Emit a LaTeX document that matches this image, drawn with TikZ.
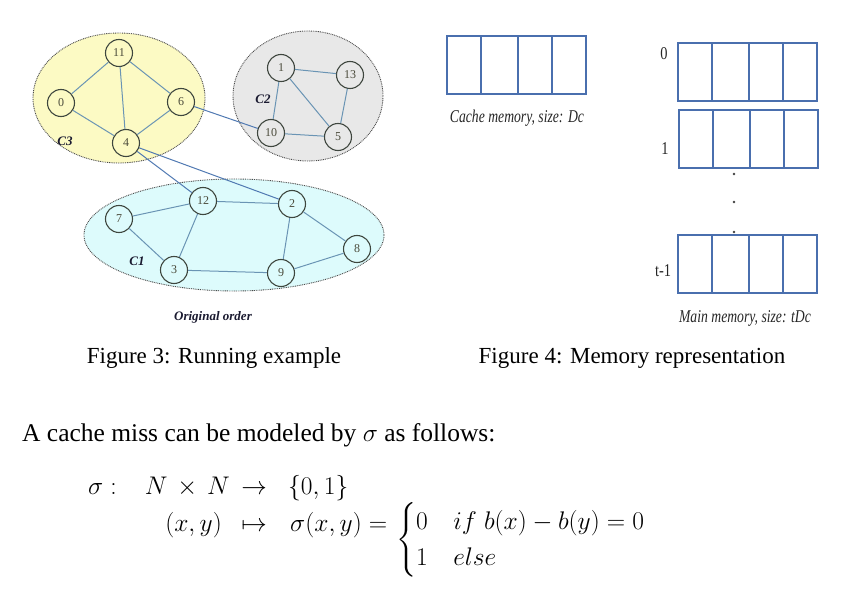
\RequirePackage{fix-cm}
\documentclass[tikz,border=0pt]{standalone}
\usepackage{amsmath}
\usepackage[no-math]{fontspec}
\setmainfont{Liberation Serif}
\usepackage{graphicx}
\definecolor{cyel}{HTML}{FCFAC4}
\definecolor{cgray}{HTML}{E8E8E8}
\definecolor{ccyan}{HTML}{DDFBFC}
\definecolor{vline}{HTML}{3E463E}
\definecolor{eline}{HTML}{6A94B4}
\definecolor{xline}{HTML}{5079B2}
\definecolor{memc}{HTML}{4A6FAE}
\definecolor{vtext}{HTML}{4A4A3A}
\definecolor{clab}{HTML}{1A1A30}
\tikzset{
  vert/.style={circle, draw=vline, line width=1.1pt, minimum size=27pt, inner sep=0pt,
    font=\fontsize{12}{12}\selectfont, text=vtext},
  cluster/.style={draw=black!70, line width=0.9pt, dash pattern=on 0.9pt off 0.9pt},
  edge/.style={draw=eline, line width=1pt},
  xedge/.style={draw=xline, line width=1pt},
  clabel/.style={font=\fontsize{13}{13}\selectfont\bfseries\itshape, text=clab, inner sep=0pt},
  memline/.style={draw=memc, line width=1.3pt},
  memrow/.pic={
    \draw[memline] (0,0) rectangle (139,58);
    \foreach \xx in {34,71,105} \draw[memline] (\xx,0) -- (\xx,58);
  },
  memlab/.style={inner sep=0pt, text=black!85},
  figcap/.style={inner sep=0pt, anchor=base, font=\fontsize{23}{27}\selectfont},
  mth/.style={inner sep=0pt, font=\fontsize{25.5}{30}\selectfont},
}
\begin{document}
\begin{tikzpicture}[x=1pt,y=-1pt]
\useasboundingbox (0,0) rectangle (860,596);
% clusters
\draw[cluster, fill=cyel] (119,98) ellipse [x radius=86pt, y radius=65pt];
\draw[cluster, fill=cgray] (308,96) ellipse [x radius=75pt, y radius=65pt];
\draw[cluster, fill=ccyan] (234,235) ellipse [x radius=150pt, y radius=56pt];
\node[clabel] (lc3) at (65,141) {C3};
\node[clabel] (lc2) at (263,99) {C2};
\node[clabel] (lc1) at (137,261) {C1};
% vertices
\node[vert, fill=cyel] (v11) at (119,53) {11};
\node[vert, fill=cyel] (v0) at (61,103) {0};
\node[vert, fill=cyel] (v6) at (181,102) {6};
\node[vert, fill=cyel] (v4) at (126,143) {4};
\node[vert, fill=cgray] (v1) at (281,68) {1};
\node[vert, fill=cgray] (v13) at (350,75) {13};
\node[vert, fill=cgray] (v10) at (271,133) {10};
\node[vert, fill=cgray] (v5) at (338,137) {5};
\node[vert, fill=ccyan] (v12) at (203,201) {12};
\node[vert, fill=ccyan] (v2) at (292,204) {2};
\node[vert, fill=ccyan] (v7) at (119,219) {7};
\node[vert, fill=ccyan] (v8) at (357,249) {8};
\node[vert, fill=ccyan] (v3) at (174,270) {3};
\node[vert, fill=ccyan] (v9) at (281,273) {9};
% edges
\draw[edge] (v11) -- (v0);
\draw[edge] (v11) -- (v6);
\draw[edge] (v11) -- (v4);
\draw[edge] (v0) -- (v4);
\draw[edge] (v6) -- (v4);
\draw[edge] (v1) -- (v13);
\draw[edge] (v1) -- (v10);
\draw[edge] (v1) -- (v5);
\draw[edge] (v13) -- (v5);
\draw[edge] (v10) -- (v5);
\draw[edge] (v7) -- (v12);
\draw[edge] (v12) -- (v2);
\draw[edge] (v7) -- (v3);
\draw[edge] (v12) -- (v3);
\draw[edge] (v2) -- (v9);
\draw[edge] (v2) -- (v8);
\draw[edge] (v3) -- (v9);
\draw[edge] (v9) -- (v8);
\draw[xedge] (v6) -- (v10);
\draw[xedge] (v4) -- (v12);
\draw[xedge] (v4) -- (v2);
\node[inner sep=0pt, font=\fontsize{13}{13}\selectfont\bfseries\itshape, text=clab] (orig) at (213,317) {Original order};
% memory
\pic at (447,36) {memrow};
\node[memlab] (cachelab) at (517,118) {\scalebox{0.76}[1]{\fontsize{18}{18}\selectfont\itshape Cache memory, size: Dc}};
\pic at (678,43) {memrow};
\pic at (679,110) {memrow};
\pic at (678,235) {memrow};
\node[memlab] (l0) at (664,54) {\scalebox{0.8}[1]{\fontsize{18}{18}\selectfont 0}};
\node[memlab] (l1) at (665,149) {\scalebox{0.8}[1]{\fontsize{18}{18}\selectfont 1}};
\node[memlab] (lt) at (663,271) {\scalebox{0.8}[1]{\fontsize{18}{18}\selectfont t-1}};
\fill[black!75] (734,174) circle (1.3pt);
\fill[black!75] (734,202) circle (1.3pt);
\fill[black!75] (734,232) circle (1.3pt);
\node[memlab] (mainlab) at (745,318) {\scalebox{0.76}[1]{\fontsize{18}{18}\selectfont\itshape Main memory, size: tDc}};
% captions
\node[figcap] (cap3) at (214,363) {Figure 3: Running example};
\node[figcap] (cap4) at (632,363) {Figure 4: Memory representation};
% text
\node[inner sep=0pt, anchor=base west, font=\fontsize{25.5}{30}\selectfont] (txt) at (22,441) {A cache miss can be modeled by $\sigma$ as follows:};
% formula
\node[mth, anchor=base west] (f1) at (88,494) {$\sigma:$};
\node[mth, anchor=base east] (f2) at (230,494) {$N\,\times\,N$};
\node[mth, anchor=base] (f3) at (254,494) {$\rightarrow$};
\node[mth, anchor=base west] (f4) at (288,494) {$\{0,1\}$};
\node[mth, anchor=base east] (f5) at (222,531) {$(x,y)$};
\node[mth, anchor=base] (f6) at (254,531) {$\mapsto$};
\node[mth, anchor=base west] (f7) at (290,531) {$\sigma(x,y)=$};
\node[mth, anchor=west] (f8) at (396,540) {$\begin{cases}0 & if\; b(x)-b(y)=0\\ 1 & else\end{cases}$};
\end{tikzpicture}
\end{document}
